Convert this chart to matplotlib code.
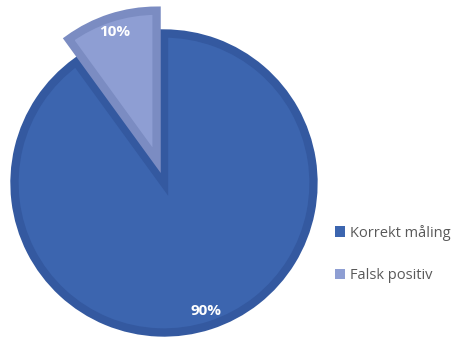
import matplotlib.pyplot as plt
from matplotlib.patches import Patch

# data
labels = ["Korrekt måling", "Falsk positiv"]
values = [90, 10]
colors = ["#3C65AF", "#8E9ED3"]
edges = ["#3459A0", "#7B8CC2"]

fig = plt.figure(figsize=(4.54, 3.37), dpi=100)
ax = fig.add_axes([0, 0, 1, 1])
ax.axis("off")

# explode is in data units here (pixels)
wedges, texts, autotexts = ax.pie(
    values, colors=colors, startangle=90, counterclock=False,
    explode=[0, 24], center=(164, 154), radius=149.5,
    autopct="%1.0f%%", pctdistance=0.9,
    wedgeprops=dict(linewidth=6),
    textprops=dict(color="white", fontsize=11, fontweight="bold", family="Open Sans"),
)
for w, ec in zip(wedges, edges):
    w.set_edgecolor(ec)
    w.set_joinstyle("miter")
ax.set_xlim(0, 454)
ax.set_ylim(0, 337)
ax.set_aspect("equal")

handles = [Patch(facecolor=c, edgecolor="none") for c in colors]
leg = ax.legend(handles, labels, loc="center left", bbox_to_anchor=(322 / 454, 1 - 254 / 337),
                frameon=False, handlelength=0.7, handleheight=0.7,
                handletextpad=0.35, labelspacing=1.9, prop=dict(family="Open Sans", size=10.5))
for t in leg.get_texts():
    t.set_color("#595959")

fig.savefig("out.png", dpi=100)
